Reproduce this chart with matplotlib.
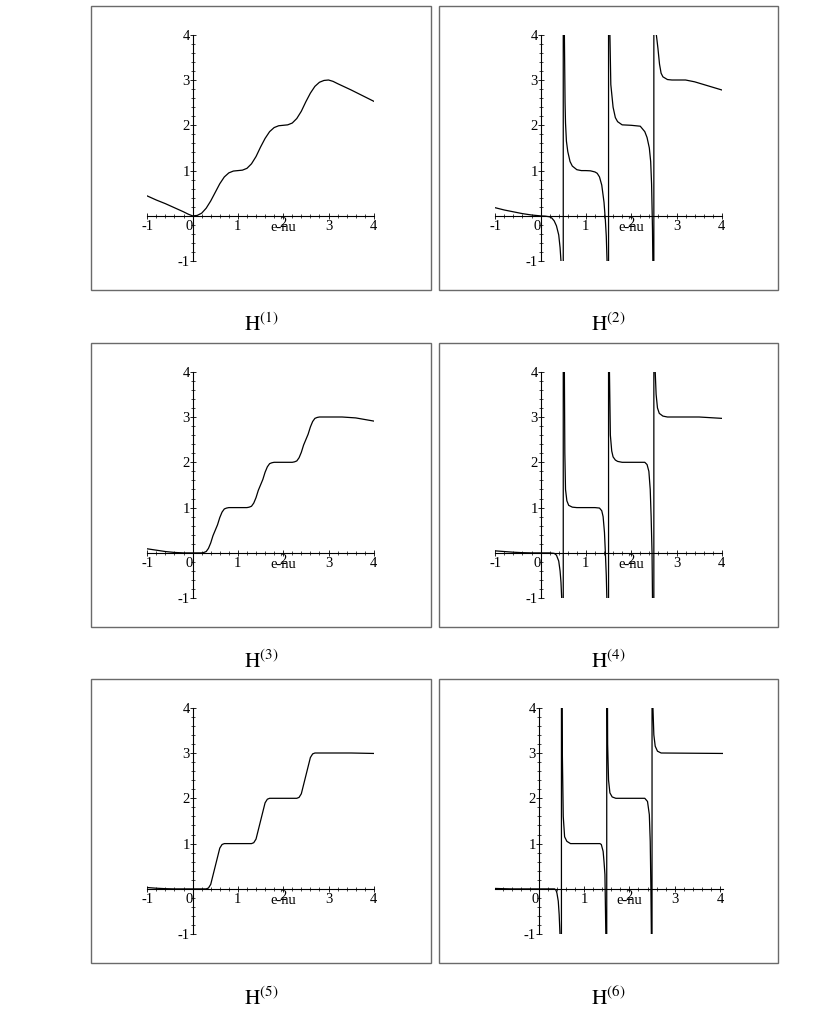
import matplotlib
matplotlib.use("Agg")
import matplotlib.pyplot as plt
from matplotlib.patches import Rectangle
from matplotlib.ticker import MultipleLocator

plt.rcParams['font.family'] = ['Liberation Serif', 'DejaVu Serif']
plt.rcParams['mathtext.fontset'] = 'stix'

# ---- data (x = e-nu, y = H) ----
h1_x = [-1.0, -0.8, -0.6, -0.4, -0.2, -0.1, 0.0, 0.1, 0.2, 0.3, 0.4, 0.5, 0.6, 0.7, 0.8, 0.9,
        1.0, 1.1, 1.2, 1.3, 1.4, 1.5, 1.6, 1.7, 1.8, 1.9, 2.0, 2.1, 2.2, 2.3, 2.4, 2.5, 2.6,
        2.7, 2.8, 2.9, 3.0, 3.1, 3.2, 3.5, 4.0]
h1_y = [0.44, 0.35, 0.27, 0.18, 0.09, 0.04, 0.0, 0.01, 0.06, 0.17, 0.33, 0.52, 0.71, 0.86, 0.95, 0.99,
        1.0, 1.01, 1.05, 1.15, 1.31, 1.52, 1.71, 1.86, 1.95, 1.99, 2.0, 2.01, 2.05, 2.15, 2.31, 2.52, 2.71,
        2.86, 2.95, 2.99, 3.0, 2.97, 2.92, 2.78, 2.53]

h3_x = [-1.0, -0.8, -0.6, -0.4, -0.2, 0.0, 0.2, 0.25, 0.3, 0.35, 0.4, 0.45, 0.5, 0.55, 0.6, 0.65,
        0.7, 0.75, 0.8, 1.2, 1.25, 1.3, 1.35, 1.4, 1.45, 1.5, 1.55, 1.6, 1.65, 1.7, 1.75, 1.8,
        2.2, 2.25, 2.3, 2.35, 2.4, 2.45, 2.5, 2.55, 2.6, 2.65, 2.7, 2.75, 2.8, 3.3, 3.6, 4.0]
h3_y = [0.09, 0.06, 0.03, 0.01, 0.0, 0.0, 0.0, 0.01, 0.03, 0.10, 0.22, 0.38, 0.50, 0.62, 0.78, 0.90,
        0.97, 0.99, 1.0, 1.0, 1.01, 1.03, 1.10, 1.22, 1.38, 1.50, 1.62, 1.78, 1.90, 1.97, 1.99, 2.0,
        2.0, 2.01, 2.03, 2.10, 2.22, 2.38, 2.50, 2.62, 2.78, 2.90, 2.97, 2.99, 3.0, 3.0, 2.98, 2.91]

h5_x = [-1.0, -0.8, -0.6, -0.4, 0.3, 0.35, 0.4, 0.45, 0.5, 0.55, 0.6, 0.65, 0.7, 1.3, 1.35, 1.4,
        1.45, 1.5, 1.55, 1.6, 1.65, 1.7, 2.3, 2.35, 2.4, 2.45, 2.5, 2.55, 2.6, 2.65, 2.7, 3.5, 4.0]
h5_y = [0.03, 0.015, 0.005, 0.0, 0.0, 0.02, 0.10, 0.30, 0.50, 0.70, 0.90, 0.98, 1.0, 1.0, 1.02, 1.10,
        1.30, 1.50, 1.70, 1.90, 1.98, 2.0, 2.0, 2.02, 2.10, 2.30, 2.50, 2.70, 2.90, 2.98, 3.0, 3.0, 2.99]

# pole curves: values run off the plot range near each pole (Maple joins the branches)
h2_x = [-1.0, -0.8, -0.6, -0.4, -0.2, 0.0, 0.1, 0.2, 0.25, 0.3, 0.35, 0.4, 0.43, 0.45, 0.47, 0.499,
        0.501, 0.51, 0.525, 0.54, 0.55, 0.57, 0.6, 0.65, 0.7, 0.8, 0.9, 1.0, 1.1, 1.2, 1.25, 1.3,
        1.35, 1.4, 1.43, 1.45, 1.47, 1.49, 1.499,
        1.501, 1.52, 1.53, 1.55, 1.6, 1.65, 1.7, 1.8, 2.0, 2.2, 2.3, 2.35, 2.4, 2.43, 2.45, 2.47,
        2.48, 2.499,
        2.501, 2.53, 2.555, 2.59, 2.625, 2.66, 2.7, 2.8, 2.9, 3.2, 3.4, 3.6, 3.8, 4.0]
h2_y = [0.18, 0.13, 0.09, 0.05, 0.02, 0.0, -0.005, -0.02, -0.05, -0.11, -0.22, -0.42, -0.7, -1.0, -1.6, -40,
        40, 6.0, 4.0, 2.5, 2.05, 1.65, 1.42, 1.2, 1.1, 1.02, 1.0, 1.0, 0.995, 0.97, 0.94, 0.86,
        0.68, 0.3, -0.1, -0.45, -1.1, -3.0, -40,
        40, 6.0, 4.0, 2.9, 2.4, 2.17, 2.08, 2.01, 2.0, 1.98, 1.86, 1.73, 1.5, 1.2, 0.7, -0.3,
        -1.2, -40,
        40, 8.0, 4.0, 3.7, 3.35, 3.15, 3.07, 3.01, 3.0, 3.0, 2.96, 2.9, 2.84, 2.78]

h4_x = [-1.0, -0.8, -0.6, -0.4, -0.2, 0.0, 0.2, 0.3, 0.35, 0.4, 0.43, 0.45, 0.47, 0.49, 0.499,
        0.501, 0.51, 0.525, 0.535, 0.55, 0.58, 0.62, 0.7, 0.8, 1.2, 1.3, 1.35, 1.38, 1.41, 1.43,
        1.45, 1.465, 1.49, 1.499,
        1.501, 1.51, 1.52, 1.54, 1.57, 1.6, 1.65, 1.7, 1.8, 2.3, 2.35, 2.39, 2.42, 2.44, 2.46,
        2.47, 2.49, 2.499,
        2.501, 2.51, 2.53, 2.55, 2.58, 2.62, 2.7, 2.8, 3.5, 4.0]
h4_y = [0.045, 0.03, 0.015, 0.005, 0.0, 0.0, 0.0, -0.01, -0.05, -0.18, -0.4, -0.65, -1.1, -3.0, -40,
        40, 10.0, 4.0, 2.2, 1.4, 1.15, 1.05, 1.01, 1.0, 1.0, 0.99, 0.93, 0.8, 0.45, 0.0,
        -0.5, -1.1, -4.0, -40,
        40, 9.0, 4.0, 2.6, 2.25, 2.12, 2.05, 2.02, 2.0, 2.0, 1.95, 1.8, 1.4, 0.8, 0.0,
        -1.0, -5.0, -40,
        40, 10.0, 4.0, 3.5, 3.2, 3.08, 3.02, 3.0, 3.0, 2.97]

h6_x = [-0.96, -0.8, -0.6, 0.35, 0.38, 0.4, 0.43, 0.45, 0.47, 0.49, 0.499,
        0.501, 0.51, 0.52, 0.54, 0.57, 0.62, 0.7, 1.35, 1.38, 1.42, 1.44, 1.46, 1.48, 1.49, 1.499,
        1.501, 1.51, 1.52, 1.54, 1.57, 1.62, 1.7, 2.34, 2.4, 2.44, 2.46, 2.475, 2.485, 2.49, 2.499,
        2.501, 2.51, 2.52, 2.54, 2.57, 2.62, 2.7, 4.07]
h6_y = [0.01, 0.005, 0.0, 0.0, -0.03, -0.09, -0.27, -0.57, -1.05, -4.0, -40,
        40, 6.0, 3.0, 1.6, 1.15, 1.05, 1.0, 1.0, 0.98, 0.83, 0.6, 0.32, -1.0, -4.0, -40,
        40, 6.0, 3.2, 2.4, 2.12, 2.03, 2.0, 2.0, 1.93, 1.64, 1.05, 0.0, -1.0, -4.0, -40,
        40, 8.0, 4.0, 3.4, 3.15, 3.04, 3.0, 2.99]

captions = ['(1)', '(2)', '(3)', '(4)', '(5)', '(6)']
series = [(h1_x, h1_y), (h2_x, h2_y), (h3_x, h3_y), (h4_x, h4_y), (h5_x, h5_y), (h6_x, h6_y)]
xranges = [(-1, 4), (-1, 4), (-1, 4), (-1, 4), (-1, 4), (-0.96, 4.07)]

W, H = 830, 1028
fig = plt.figure(figsize=(8.3, 10.28), dpi=100)

box_left = [91, 439]
box_width = [340, 339]
box_top = [6, 343, 679]
box_h = 284
unit = 45.3  # pixels per data unit
fs = 10.5

for i, (xs, ys) in enumerate(series):
    row, col = divmod(i, 2)
    bl, bt, bw = box_left[col], box_top[row], box_width[col]
    fig.add_artist(Rectangle((bl / W, 1 - (bt + box_h) / H), bw / W, box_h / H,
                             transform=fig.transFigure, fill=False,
                             edgecolor='#6a6a6a', linewidth=1.0))

    x0, x1 = xranges[i]
    left = bl + 56.3
    top = bt + 28.7
    aw = (x1 - x0) * unit
    ah = 5 * unit
    ax = fig.add_axes([left / W, 1 - (top + ah) / H, aw / W, ah / H])
    ax.patch.set_visible(False)
    ax.plot(xs, ys, color='black', linewidth=0.9)
    ax.set_xlim(x0, x1)
    ax.set_ylim(-1, 4)

    for s in ['top', 'right']:
        ax.spines[s].set_visible(False)
    ax.spines['left'].set_position(('data', 0))
    ax.spines['bottom'].set_position(('data', 0))
    for s in ['left', 'bottom']:
        ax.spines[s].set_linewidth(0.8)

    xt = [t for t in [-1, 0, 1, 2, 3, 4] if x0 <= t <= x1]
    ax.set_xticks(xt, ['' if t in (0, 2) else str(t) for t in xt])
    ax.set_yticks([-1, 1, 2, 3, 4], ['-1', '1', '2', '3', '4'])
    ax.xaxis.set_minor_locator(MultipleLocator(0.2))
    ax.yaxis.set_minor_locator(MultipleLocator(0.2))
    ax.tick_params(which='major', direction='inout', length=4, width=0.6, labelsize=fs)
    ax.tick_params(which='minor', direction='inout', length=3, width=0.5)
    ax.tick_params(axis='x', which='major', pad=1.0)
    ax.tick_params(axis='y', which='major', pad=0)

    # labels Maple nudges off the regular spot
    ax.annotate('0', (0, 0), xytext=(-2.5, -3.0), textcoords='offset points',
                ha='center', va='top', fontsize=fs)
    ax.annotate('2', (2, 0), xytext=(0, -0.8), textcoords='offset points',
                ha='center', va='top', fontsize=fs)
    ax.annotate('e-nu', (2, 0), xytext=(0, -8.5), textcoords='offset points',
                ha='center', va='center', fontsize=fs)

    fig.text((bl + bw / 2) / W, 1 - (331 + 337 * row) / H,
             r'$\mathrm{H}^{' + captions[i] + '}$',
             ha='center', va='baseline', fontsize=15.5)

fig.savefig('out.png', dpi=100)
